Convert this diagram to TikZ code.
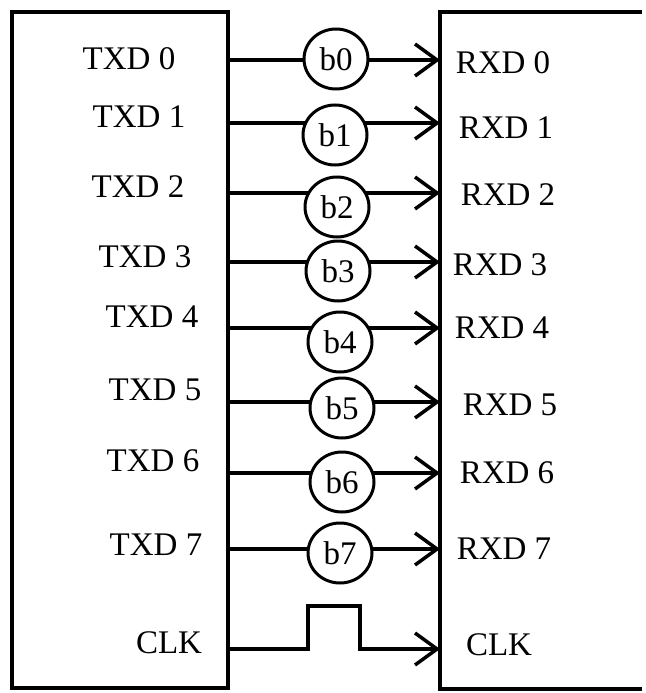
\documentclass[tikz,border=0pt]{standalone}
\usepackage{fontspec}
\setmainfont{Liberation Serif}
\usetikzlibrary{arrows.meta,shapes.geometric}
\begin{document}
\begin{tikzpicture}[x=1pt,y=-1pt,
  frame/.style={line width=3.5pt},
  sig/.style={line width=3.5pt,-{Straight Barb[length=22pt,width=32pt]}},
  bitc/.style={ellipse,draw,line width=3pt,fill=white,minimum width=64pt,minimum height=60pt,inner sep=0pt,font=\fontsize{33}{36}\selectfont},
  lbl/.style={anchor=base,inner sep=0pt,font=\fontsize{33}{36}\selectfont}]
\useasboundingbox (0,0) rectangle (645,693);
% boxes
\node[frame,draw,minimum width=216pt,minimum height=676pt,inner sep=0pt] (tx) at (120,350) {};
\coordinate (rxa) at (642,12);
\coordinate (rxb) at (440,12);
\coordinate (rxc) at (440,689);
\coordinate (rxd) at (642,689);
\draw[frame] (rxa) -- (rxb) -- (rxc) -- (rxd);
% signal lines
\foreach \i/\y in {0/60,1/123,2/193,3/262,4/328,5/402,6/473,7/549}{
  \coordinate (t\i) at (228,\y);
  \coordinate (r\i) at (440,\y);
  \draw[sig] (t\i) -- (r\i);
}
% bits
\foreach \i/\x/\y in {0/336/59,1/335/135,2/337/207,3/338/271,4/340/342,5/342/408,6/342/482,7/340/553}{
  \node[bitc] (b\i) at (\x,\y) {b\i};
}
% TXD labels
\foreach \i/\x/\y in {0/129/70,1/139/127,2/138/197,3/145/267,4/152/327,5/155/400,6/153/471,7/156/555}{
  \node[lbl] (tl\i) at (\x,\y) {TXD \i};
}
% RXD labels
\foreach \i/\x/\y in {0/503/74,1/506/138,2/508/205,3/500/275,4/502/338,5/510/415,6/507/483,7/504/559}{
  \node[lbl] (rl\i) at (\x,\y) {RXD \i};
}
\node[lbl] (tclk) at (169,653) {CLK};
\node[lbl] (rclk) at (499,655) {CLK};
% clock
\coordinate (tc) at (228,649);
\coordinate (rc) at (440,649);
\coordinate (p1) at (308,649);
\coordinate (p2) at (308,606);
\coordinate (p3) at (360,606);
\coordinate (p4) at (360,649);
\draw[sig] (tc) -- (p1) -- (p2) -- (p3) -- (p4) -- (rc);
\end{tikzpicture}
\end{document}
